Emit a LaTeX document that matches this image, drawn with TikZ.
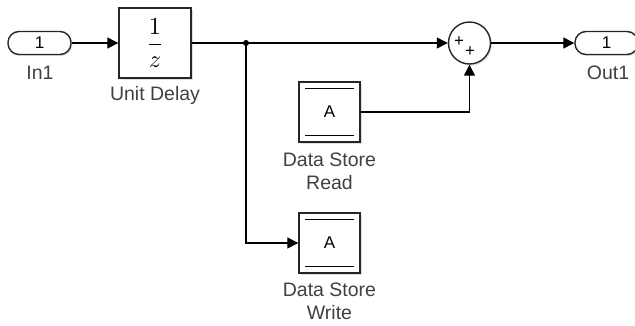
\documentclass[tikz,border=0pt]{standalone}
\usepackage{graphicx}
\usepackage[no-math]{fontspec}
\setmainfont{Liberation Sans}
\usetikzlibrary{positioning,calc,arrows.meta,shadows}

\begin{document}
\begin{tikzpicture}[x=1pt,y=-1pt,
    blk/.style={draw=black!85, line width=1.4pt, fill=white,
        drop shadow={opacity=0.25, shadow xshift=1.5pt, shadow yshift=-1.5pt}},
    port/.style={blk, rounded corners=11pt, minimum width=63pt, minimum height=23pt,
        inner sep=0pt, font=\fontsize{17}{20}\selectfont},
    store/.style={blk, minimum width=61pt, minimum height=60pt, inner sep=0pt,
        font=\fontsize{17}{20}\selectfont},
    sig/.style={line width=1.3pt, -{Triangle[length=11pt,width=11pt]}},
    lbl/.style={font=\fontsize{19.5}{23}\selectfont, text=black!75, align=center, inner sep=0pt}]
    \useasboundingbox (0,0) rectangle (635,325);

    % Blocks
    \node[port] (in1) at (39.5,43) {1};
    \node[blk, minimum width=72pt, minimum height=70pt, inner sep=0pt] (delay) at (155,43)
        {\scalebox{2.45}{$\displaystyle\frac{1}{z}$}};
    \node[blk, circle, minimum size=42pt, inner sep=0pt] (sum) at (469.5,43) {};
    \node[port] (out1) at (606.5,43) {1};
    \node[store] (dsr) at (329.5,112) {A};
    \node[store] (dsw) at (329.5,243) {A};

    % Signs of the sum
    \node[font=\fontsize{17}{17}\selectfont, inner sep=0pt] (plusa) at (459,42) {+};
    \node[font=\fontsize{17}{17}\selectfont, inner sep=0pt] (plusb) at (470,52) {+};

    % Double bars of the data stores
    \foreach \s in {dsr,dsw} {
        \draw[line width=1.1pt] ($(\s.north west)+(7,7)$) -- ($(\s.north east)+(-7,7)$);
        \draw[line width=1.1pt] ($(\s.south west)+(7,-7)$) -- ($(\s.south east)+(-7,-7)$);
    }

    % Labels
    \node[lbl] (in1lbl) at (40,73) {In1};
    \node[lbl] (delaylbl) at (155,95) {Unit Delay};
    \node[lbl] (out1lbl) at (608,73) {Out1};
    \node[lbl] (dsrlbl) at (329.5,171) {Data Store\\Read};
    \node[lbl] (dswlbl) at (329.5,301) {Data Store\\Write};

    % Signals
    \coordinate (branch) at (246,43);
    \coordinate (tap) at (sum.south |- dsr.east);
    \draw[sig] (in1) -- (delay);
    \draw[sig] (delay) -- (sum);
    \draw[sig] (branch) |- (dsw);
    \draw[sig] (dsr) -- (tap) -- (sum);
    \draw[sig] (sum) -- (out1);
    \fill (branch) circle (3pt);
\end{tikzpicture}
\end{document}
